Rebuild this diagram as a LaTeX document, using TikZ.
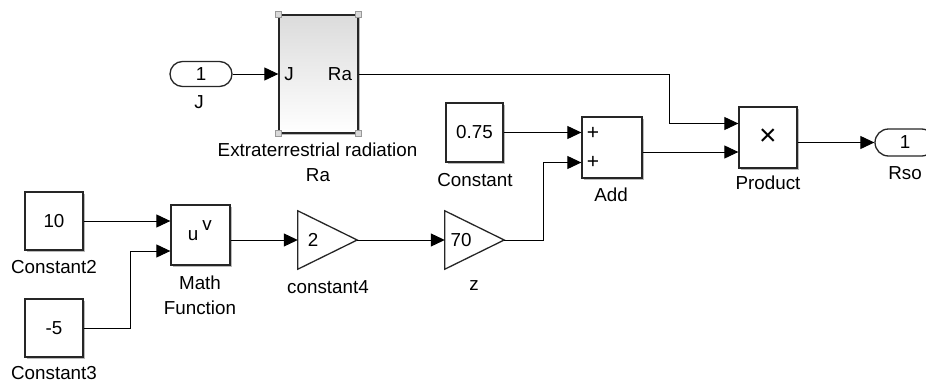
\documentclass[tikz,border=0pt]{standalone}
\usepackage{fontspec}
\setmainfont{Liberation Sans}
\usetikzlibrary{arrows.meta,shadows}

\tikzset{
  blk/.style={draw=black!85, line width=1.3pt, fill=white, minimum width=58pt,
    minimum height=58pt, inner sep=0pt,
    drop shadow={shadow xshift=2pt, shadow yshift=-2pt, fill=black!45, opacity=0.6}},
  port/.style={draw=black!85, line width=1.3pt, fill=white, minimum width=62pt,
    minimum height=25pt, rounded corners=12.5pt, inner sep=0pt},
  gainbox/.style={minimum width=59pt, minimum height=58pt, inner sep=0pt},
  tri/.style={draw=black!85, line width=1.3pt, fill=white, line join=miter},
  sig/.style={line width=1pt, -{Triangle[length=14pt, width=13pt]}},
  lbl/.style={inner sep=0pt},
  handle/.style={draw=gray!80, fill=gray!30, minimum size=6pt, inner sep=0pt, line width=0.6pt}
}

\begin{document}
\begin{tikzpicture}[x=1pt, y=-1pt, font=\fontsize{18.8}{22}\selectfont]
  \useasboundingbox (0,0) rectangle (926,383);

  % inport and radiation subsystem
  \node[port] (inJ) at (201,74) {1};
  \node[lbl] (lJ) at (199,102) {J};
  \node[blk, minimum width=79pt, minimum height=118pt, top color=black!14, bottom color=white] (ra) at (318.5,74) {};
  \node[lbl] (raJ) at (289,74) {J};
  \node[lbl] (raRa) at (340,74) {Ra};
  \foreach \a in {north west, north east, south west, south east}
    \node[handle] at (ra.\a) {};
  \node[lbl] (lra1) at (317.5,150) {Extraterrestrial radiation};
  \node[lbl] (lra2) at (318,175) {Ra};

  % constant, add, product, outport
  \node[blk, minimum width=57pt, minimum height=59pt] (c075) at (474.5,132.5) {0.75};
  \node[lbl] (lc075) at (475,180) {Constant};
  \node[blk, minimum width=60pt, minimum height=61pt] (add) at (612,147.5) {};
  \node[lbl, font=\fontsize{21}{22}\selectfont] (addp1) at (593,133) {+};
  \node[lbl, font=\fontsize{21}{22}\selectfont] (addp2) at (593,162) {+};
  \node[lbl] (ladd) at (611,194.5) {Add};
  \node[blk, minimum height=61pt, font=\fontsize{30}{30}\selectfont] (prod) at (768,137.5) {×};
  \node[lbl] (lprod) at (768,183) {Product};
  \node[port, minimum width=60pt, minimum height=27pt, rounded corners=13.5pt] (outR) at (905,142.5) {1};
  \node[lbl] (lout) at (905,173.5) {Rso};

  % lower chain
  \node[blk] (c10) at (54,221) {10};
  \node[lbl] (lc10) at (54,267) {Constant2};
  \node[blk] (cm5) at (54,328) {-5};
  \node[lbl] (lcm5) at (54,373.5) {Constant3};
  \node[blk, minimum width=59pt, minimum height=60pt] (mathf) at (200.5,235) {};
  \node[lbl] (mu) at (193,236) {u};
  \node[lbl] (mv) at (207,226) {v};
  \node[lbl] (lmath1) at (200,283) {Math};
  \node[lbl] (lmath2) at (200,308) {Function};

  \node[gainbox] (g2) at (327.5,240) {};
  \draw[tri] (g2.north west) -- (g2.east) -- (g2.south west) -- cycle;
  \node[lbl] (g2v) at (313,240) {2};
  \node[lbl] (lg2) at (328,287) {constant4};
  \node[gainbox] (gz) at (474.5,240) {};
  \draw[tri] (gz.north west) -- (gz.east) -- (gz.south west) -- cycle;
  \node[lbl] (gzv) at (461,240) {70};
  \node[lbl] (lgz) at (474,286) {z};

  % signal lines
  \coordinate (rabend) at (669,0);
  \coordinate (zbend) at (543,0);
  \coordinate (m5bend) at (130,0);
  \coordinate (pin1) at ([yshift=14pt]prod.west);
  \coordinate (pin2) at ([yshift=-14.5pt]prod.west);

  \draw[sig] (inJ.east) -- (inJ.east -| ra.west);
  \draw[sig] (ra.east) -- (ra.east -| rabend) |- (pin1);
  \draw[sig] (pin2 -| add.east) -- (pin2);
  \draw[sig] (outR.west -| prod.east) -- (outR.west);
  \draw[sig] (c075.east) -- (c075.east -| add.west);
  \draw[sig] (gz.east) -- (gz.east -| zbend) |- ([yshift=-15pt]add.west);
  \draw[sig] (c10.east) -- (c10.east -| mathf.west);
  \draw[sig] (cm5.east) -- (cm5.east -| m5bend) |- ([yshift=-16pt]mathf.west);
  \draw[sig] (g2.west -| mathf.east) -- (g2.west);
  \draw[sig] (g2.east) -- (gz.west);
\end{tikzpicture}
\end{document}
